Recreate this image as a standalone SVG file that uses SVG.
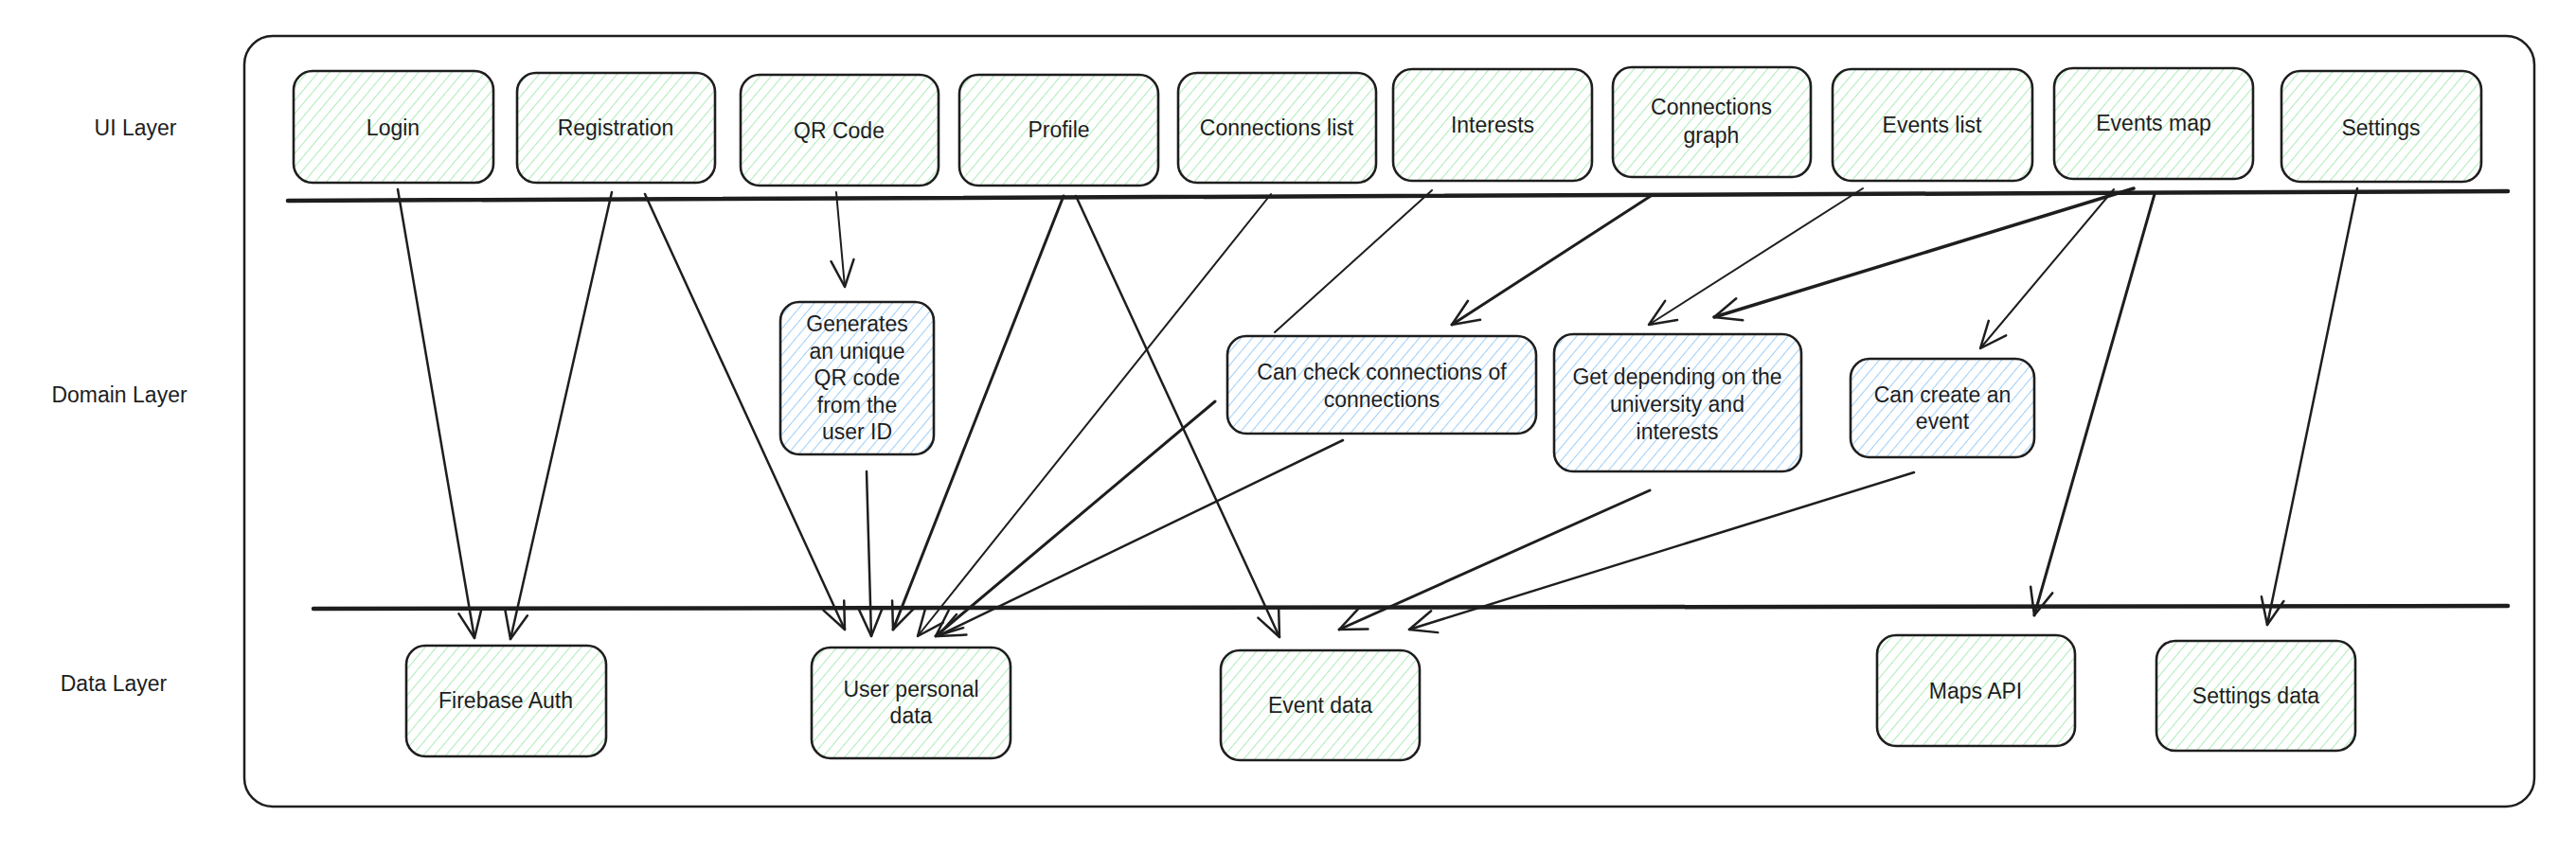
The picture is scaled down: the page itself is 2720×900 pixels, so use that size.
<svg xmlns="http://www.w3.org/2000/svg" width="2720" height="900" viewBox="0 0 2720 900">
<style>
.bg{fill:#ffffff}
.frame{fill:none;stroke:#1e1e1e;stroke-width:2.5}
.div{stroke:#1e1e1e;stroke-width:4.5;stroke-linecap:round}
.ui rect,.data rect{fill:url(#hg);stroke:#1e1e1e;stroke-width:2.6}
.dom rect{fill:url(#hb);stroke:#1e1e1e;stroke-width:2.6}
text{font-family:"Liberation Sans",Arial,sans-serif;font-size:23px;fill:#1e1e1e;text-anchor:middle}
.lbl{font-size:23px}
.c line{stroke:#1e1e1e;stroke-linecap:round;fill:none}
.c .a{marker-end:url(#ah)}
</style>
<defs>
<pattern id="hg" width="9" height="9" patternUnits="userSpaceOnUse" patternTransform="rotate(40)">
<line x1="0" y1="-1" x2="0" y2="10" stroke="#a9eab3" stroke-width="1.9"/>
</pattern>
<pattern id="hb" width="9" height="9" patternUnits="userSpaceOnUse" patternTransform="rotate(40)">
<line x1="0" y1="-1" x2="0" y2="10" stroke="#99ccf7" stroke-width="1.9"/>
</pattern>
<marker id="ah" viewBox="-34 -18 38 36" refX="0" refY="0" markerWidth="38" markerHeight="36" markerUnits="userSpaceOnUse" orient="auto" overflow="visible">
<path d="M-28,-12 L0,0 L-28,12" fill="none" stroke="#1e1e1e" stroke-width="2.5" stroke-linecap="round" stroke-linejoin="round"/>
</marker>
</defs>
<rect class="bg" x="0" y="0" width="2720" height="900"/>
<rect class="frame" x="258" y="38" width="2418" height="814" rx="30"/>
<g id="layer-labels">
<text class="lbl" x="143" y="143">UI Layer</text>
<text class="lbl" x="126" y="425">Domain Layer</text>
<text class="lbl" x="120" y="730">Data Layer</text>
</g>
<g id="dividers">
<line class="div" x1="304" y1="212" x2="2648" y2="202"/>
<line class="div" x1="331" y1="643" x2="2648" y2="640"/>
</g>
<g id="n-login" class="ui"><rect x="310" y="75" width="211" height="118" rx="20"/><text x="415" y="143">Login</text></g>
<g id="n-registration" class="ui"><rect x="546" y="77" width="209" height="116" rx="20"/><text x="650" y="143">Registration</text></g>
<g id="n-qrcode" class="ui"><rect x="782" y="79" width="209" height="117" rx="20"/><text x="886" y="146">QR Code</text></g>
<g id="n-profile" class="ui"><rect x="1013" y="79" width="210" height="117" rx="20"/><text x="1118" y="145">Profile</text></g>
<g id="n-connlist" class="ui"><rect x="1244" y="77" width="209" height="116" rx="20"/><text x="1348" y="143">Connections list</text></g>
<g id="n-interests" class="ui"><rect x="1471" y="73" width="210" height="118" rx="20"/><text x="1576" y="140">Interests</text></g>
<g id="n-conngraph" class="ui"><rect x="1703" y="71" width="209" height="116" rx="20"/><text x="1807" y="121">Connections</text><text x="1807" y="151">graph</text></g>
<g id="n-eventslist" class="ui"><rect x="1935" y="73" width="211" height="118" rx="20"/><text x="2040" y="140">Events list</text></g>
<g id="n-eventsmap" class="ui"><rect x="2169" y="72" width="210" height="117" rx="20"/><text x="2274" y="138">Events map</text></g>
<g id="n-settings" class="ui"><rect x="2409" y="75" width="211" height="117" rx="20"/><text x="2514" y="143">Settings</text></g>
<g id="n-generates" class="dom"><rect x="824" y="319" width="162" height="161" rx="20"/>
<text x="905" y="350">Generates</text><text x="905" y="379">an unique</text><text x="905" y="407">QR code</text><text x="905" y="436">from the</text><text x="905" y="464">user ID</text></g>
<g id="n-cancheck" class="dom"><rect x="1296" y="355" width="326" height="103" rx="20"/>
<text x="1459" y="401">Can check connections of</text><text x="1459" y="430">connections</text></g>
<g id="n-getdep" class="dom"><rect x="1641" y="353" width="261" height="145" rx="20"/>
<text x="1771" y="406">Get depending on the</text><text x="1771" y="435">university and</text><text x="1771" y="464">interests</text></g>
<g id="n-cancreate" class="dom"><rect x="1954" y="379" width="194" height="104" rx="20"/>
<text x="2051" y="425">Can create an</text><text x="2051" y="453">event</text></g>
<g id="n-firebase" class="data"><rect x="429" y="682" width="211" height="117" rx="20"/><text x="534" y="748">Firebase Auth</text></g>
<g id="n-userdata" class="data"><rect x="857" y="684" width="210" height="117" rx="20"/><text x="962" y="736">User personal</text><text x="962" y="764">data</text></g>
<g id="n-eventdata" class="data"><rect x="1289" y="687" width="210" height="116" rx="20"/><text x="1394" y="753">Event data</text></g>
<g id="n-maps" class="data"><rect x="1982" y="671" width="209" height="117" rx="20"/><text x="2086" y="738">Maps API</text></g>
<g id="n-settingsdata" class="data"><rect x="2277" y="677" width="210" height="116" rx="20"/><text x="2382" y="743">Settings data</text></g>
<g id="connectors" class="c">
<line class="a" x1="420" y1="200" x2="501" y2="674" stroke-width="2.5"/>
<line class="a" x1="646" y1="203" x2="539" y2="675" stroke-width="2.5"/>
<line class="a" x1="681" y1="205" x2="892" y2="665" stroke-width="2.5"/>
<line class="a" x1="883" y1="203" x2="892" y2="303" stroke-width="2"/>
<line class="a" x1="915" y1="498" x2="920" y2="672" stroke-width="2.5"/>
<line class="a" x1="1123" y1="207" x2="943" y2="665" stroke-width="3"/>
<line class="a" x1="1136" y1="207" x2="1351" y2="673" stroke-width="2.5"/>
<line class="a" x1="1342" y1="205" x2="969" y2="672" stroke-width="2"/>
<line x1="1512" y1="201" x2="1346" y2="351" stroke-width="2"/>
<line class="a" x1="1743" y1="207" x2="1533" y2="343" stroke-width="3"/>
<line class="a" x1="1967" y1="199" x2="1741" y2="343" stroke-width="2"/>
<line class="a" x1="2253" y1="199" x2="1810" y2="335" stroke-width="3.5"/>
<line class="a" x1="2232" y1="200" x2="2091" y2="368" stroke-width="2"/>
<line class="a" x1="2275" y1="205" x2="2148" y2="650" stroke-width="3"/>
<line class="a" x1="2489" y1="199" x2="2394" y2="660" stroke-width="2.5"/>
<line class="a" x1="1283" y1="424" x2="988" y2="672" stroke-width="3"/>
<line class="a" x1="1418" y1="465" x2="990" y2="672" stroke-width="2.5"/>
<line class="a" x1="1742" y1="518" x2="1414" y2="665" stroke-width="3"/>
<line class="a" x1="2021" y1="499" x2="1488" y2="665" stroke-width="2.5"/>
</g>
</svg>
